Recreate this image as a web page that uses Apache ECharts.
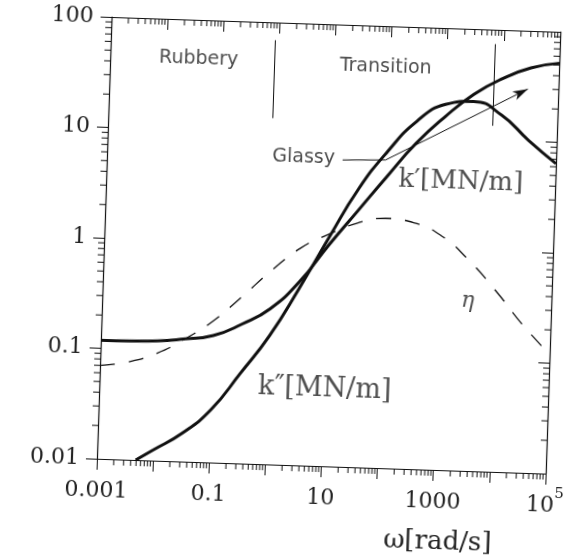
<!DOCTYPE html>
<html>
<head>
<meta charset="utf-8">
<script src="https://cdn.jsdelivr.net/npm/echarts@6/dist/echarts.min.js"></script>
<style>
html, body { margin: 0; padding: 0; background: #fff; }
/* the scan is tilted a little clockwise */
#chart { width: 578px; height: 558px; transform: rotate(1.9deg); transform-origin: 50% 50%; }
</style>
</head>
<body>
<div id="chart"></div>
<script>
// omega [rad/s], value (half-decade steps)
var kStorage = [
    [0.001, 0.118], [0.00316, 0.119], [0.01, 0.121], [0.0316, 0.129], [0.1, 0.141],
    [0.316, 0.182], [1, 0.257], [3.16, 0.457], [10, 1.0], [31.6, 2.09], [100, 4.37],
    [316, 8.9], [1000, 15.8], [3160, 25.7], [10000, 36.3], [31600, 46.2], [100000, 52]
];
var kLoss = [
    [0.0049, 0.01], [0.01, 0.0125], [0.0316, 0.018], [0.1, 0.030], [0.316, 0.065],
    [1, 0.146], [3.16, 0.398], [10, 1.17], [31.6, 3.3], [100, 7.4], [316, 14.1],
    [1000, 20.4], [3160, 22.1], [10000, 17], [31600, 10.2], [100000, 6.4]
];
var eta = [
    [0.001, 0.07], [0.00316, 0.0767], [0.01, 0.0933], [0.0316, 0.129], [0.1, 0.193],
    [0.316, 0.327], [1, 0.569], [3.16, 0.923], [10, 1.26], [31.6, 1.62], [100, 1.82],
    [316, 1.7], [1000, 1.32], [3160, 0.813], [10000, 0.437], [31600, 0.219], [100000, 0.12]
];

var xTickLabels = { '-3': '0.001', '-1': '0.1', '1': '10', '3': '1000', '5': '10{s|5}' };
var yTickLabels = { '2': '100', '1': '10', '0': '1', '-1': '0.1', '-2': '0.01' };

// region boundaries: omega, from, to
var dividers = [[0.85, 13.6, 69], [7000, 13.5, 74]];
var glassyLeader = [[15.8, 5.97], [92, 6.15], [28500, 29.7]];

var notes = [
    { text: 'Rubbery', at: [0.0377, 44.3], kind: 'sans' },
    { text: 'Transition', at: [81.5, 42.7], kind: 'sans' },
    { text: 'Glassy', at: [3.18, 6.18], kind: 'sans' },
    { text: 'k\u2032[MN/m]', at: [2070, 4.1], kind: 'serif' },
    { text: 'k\u2033[MN/m]', at: [10.35, 0.05], kind: 'serif2' },
    { text: '\u03b7', at: [3236, 0.345], kind: 'greek' }
];

var xMin = 0.001, xMax = 100000, yMin = 0.01, yMax = 100;

var minorX = [], minorY = [];
for (var e = -3; e < 5; e++) {
    for (var m = 2; m < 10; m++) minorX.push([m * Math.pow(10, e), 1]);
}
for (var e2 = -2; e2 < 2; e2++) {
    for (var m2 = 2; m2 < 10; m2++) minorY.push([1, m2 * Math.pow(10, e2)]);
}

var ink = '#111';
var chart = echarts.init(document.getElementById('chart'));

function tickLine(x1, y1, x2, y2) {
    return { type: 'line', shape: { x1: x1, y1: y1, x2: x2, y2: y2 }, style: { stroke: ink, lineWidth: 1 } };
}

var noteStyles = {
    sans: { fontFamily: 'DejaVu Sans', fontSize: 19, color: '#222' },
    serif: { fontFamily: 'DejaVu Serif', fontSize: 26, color: '#222' },
    serif2: { fontFamily: 'DejaVu Serif', fontSize: 27, color: '#222' },
    greek: { fontFamily: 'DejaVu Serif', fontStyle: 'italic', fontSize: 22, color: '#222' }
};

var noteData = notes.map(function (n) {
    var st = noteStyles[n.kind];
    return {
        value: n.at,
        label: {
            show: true, position: [0, 0], align: 'center', verticalAlign: 'middle',
            formatter: n.text, fontFamily: st.fontFamily, fontSize: st.fontSize,
            fontStyle: st.fontStyle || 'normal', color: st.color
        }
    };
});

var dividerLines = dividers.map(function (d) {
    return [{ coord: [d[0], d[1]] }, { coord: [d[0], d[2]] }];
});

function logAxis(pos, min, max, labels, showLabels, inside) {
    var isX = pos === 'bottom' || pos === 'top';
    return {
        type: 'log', position: pos, min: min, max: max, logBase: 10,
        splitNumber: Math.round(Math.log10(max / min)),
        axisLine: { show: true, lineStyle: { color: ink, width: 1.2 } },
        axisTick: { show: true, inside: inside, length: 11, lineStyle: { color: ink, width: 1 } },
        splitLine: { show: false },
        axisLabel: {
            show: showLabels,
            margin: isX ? 13 : 18,
            fontFamily: 'DejaVu Serif', fontSize: 22, color: '#222',
            rich: {
                b: { fontFamily: 'DejaVu Serif', fontSize: 22, lineHeight: 30, verticalAlign: 'bottom', color: '#222' },
                s: { fontFamily: 'DejaVu Serif', fontSize: 15, lineHeight: 15, verticalAlign: 'top', color: '#222' }
            },
            formatter: function (v) {
                var k = String(Math.round(Math.log10(v)));
                var t = labels[k];
                if (!t) return '';
                if (!isX) return t;
                return t.indexOf('{s|') >= 0 ? t.replace(/^(\d+)/, '{b|$1}') : '{b|' + t + '}';
            }
        }
    };
}

chart.setOption({
    animation: false,
    backgroundColor: '#fff',
    grid: { left: 103, top: 23, width: 449, height: 442 },
    xAxis: [
        logAxis('bottom', xMin, xMax, xTickLabels, true, false),
        logAxis('top', xMin, xMax, xTickLabels, false, true)
    ],
    yAxis: [
        logAxis('left', yMin, yMax, yTickLabels, true, false),
        logAxis('right', yMin, yMax, yTickLabels, false, true)
    ],
    graphic: [{
        type: 'text', x: 446, y: 537,
        style: { text: '\u03c9[rad/s]', fontFamily: 'DejaVu Serif', fontSize: 26, fill: '#222', align: 'center', verticalAlign: 'middle' }
    }],
    series: [
        {
            name: "k'", type: 'line', data: kStorage, smooth: 0.5, symbol: 'none',
            lineStyle: { color: ink, width: 3 }
        },
        {
            name: "k''", type: 'line', data: kLoss, smooth: 0.5, symbol: 'none',
            lineStyle: { color: ink, width: 3 }
        },
        {
            name: 'eta', type: 'line', data: eta, smooth: 0.5, symbol: 'none',
            lineStyle: { color: ink, width: 1.3, type: [15, 14] }
        },
        {
            name: 'regions', type: 'line', data: [], symbol: 'none',
            markLine: {
                silent: true, symbol: 'none', label: { show: false },
                lineStyle: { color: ink, width: 1, type: 'solid' },
                data: dividerLines.concat([
                    [{ coord: glassyLeader[0] }, { coord: glassyLeader[1] }],
                    [{ coord: glassyLeader[1], symbol: 'none' },
                     { coord: glassyLeader[2], symbol: 'arrow', symbolSize: [7, 15] }]
                ])
            }
        },
        {
            name: 'notes', type: 'scatter', data: noteData, symbolSize: 0, clip: false, silent: true
        },
        {
            name: 'minorX', type: 'custom', data: minorX, clip: false, silent: true,
            renderItem: function (params, api) {
                var b = api.coord([api.value(0), yMin]);
                var t = api.coord([api.value(0), yMax]);
                return { type: 'group', children: [
                    tickLine(b[0], b[1], b[0], b[1] + 6),
                    tickLine(t[0], t[1], t[0], t[1] + 6)
                ] };
            }
        },
        {
            name: 'minorY', type: 'custom', data: minorY, clip: false, silent: true,
            renderItem: function (params, api) {
                var l = api.coord([xMin, api.value(1)]);
                var r = api.coord([xMax, api.value(1)]);
                return { type: 'group', children: [
                    tickLine(l[0], l[1], l[0] - 6, l[1]),
                    tickLine(r[0], r[1], r[0] - 6, r[1])
                ] };
            }
        }
    ]
});
</script>
</body>
</html>
